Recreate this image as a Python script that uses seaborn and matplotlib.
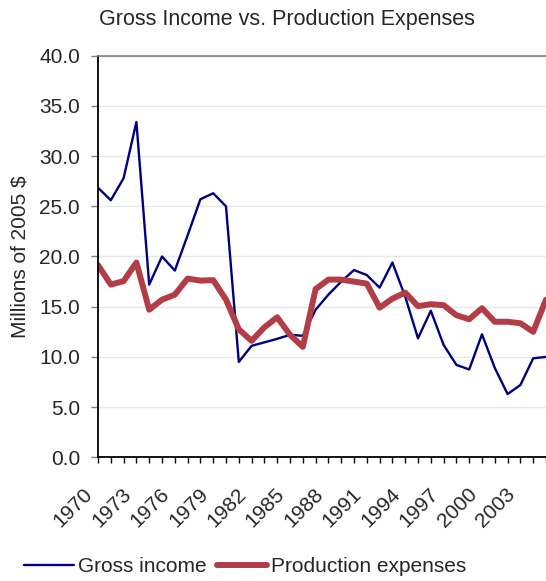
import matplotlib
matplotlib.use("Agg")
import matplotlib.pyplot as plt
import matplotlib.transforms as mtransforms
import seaborn as sns
import pandas as pd

years = list(range(1970, 2006))
gross_income = [26.85, 25.6, 27.8, 33.4, 17.2, 20.0, 18.6, 22.1, 25.7, 26.3,
                25.0, 9.5, 11.1, 11.45, 11.8, 12.2, 12.1, 14.7, 16.2, 17.5,
                18.65, 18.15, 16.9, 19.4, 16.0, 11.85, 14.6, 11.2, 9.2, 8.75,
                12.25, 8.9, 6.3, 7.2, 9.86, 10.0]
production_expenses = [19.15, 17.2, 17.55, 19.4, 14.7, 15.7, 16.2, 17.8, 17.6, 17.65,
                       15.7, 12.75, 11.6, 12.95, 13.95, 12.2, 11.0, 16.75, 17.7, 17.7,
                       17.5, 17.3, 14.9, 15.8, 16.4, 15.05, 15.25, 15.15, 14.15, 13.75,
                       14.85, 13.5, 13.5, 13.35, 12.5, 15.7]
label_years = list(range(1970, 2004, 3))
y_ticks = [0, 5, 10, 15, 20, 25, 30, 35, 40]

df = pd.DataFrame({"Year": years, "Gross income": gross_income,
                   "Production expenses": production_expenses})

sns.set_style("white")
plt.rcParams['font.family'] = ['Liberation Sans', 'DejaVu Sans']

W, H = 546, 581
fig = plt.figure(figsize=(W / 100, H / 100), dpi=100)
left, right, top, bottom = 98, 546, 55.7, 457.3
ax = fig.add_axes([left / W, (H - bottom) / H, (right - left) / W, (bottom - top) / H])

sns.lineplot(data=df, x="Year", y="Gross income", ax=ax, color="#000080",
             linewidth=1.7, label="Gross income", legend=False)
sns.lineplot(data=df, x="Year", y="Production expenses", ax=ax, color="#B33D47",
             linewidth=4.3, label="Production expenses", legend=False,
             solid_capstyle="round", solid_joinstyle="round")

ax.set_xlim(1970, 2005)
ax.set_ylim(0, 40)
ax.set_yticks(y_ticks)
ax.set_yticklabels([f"{v:.1f}" for v in y_ticks], fontsize=15)
ax.set_xticks(years)
ax.set_xticklabels([])
offset = mtransforms.ScaledTranslation(-15 / 100, -27 / 100, fig.dpi_scale_trans)
for yr in label_years:
    ax.text(yr, 0, str(yr), transform=ax.get_xaxis_transform() + offset,
            rotation=45, ha="right", va="top", rotation_mode="anchor",
            fontsize=15, clip_on=False)
ax.tick_params(axis="x", direction="out", length=4, width=1, color="black", bottom=True)
ax.tick_params(axis="y", direction="out", length=5, width=1, color="#808080", pad=8, left=True)
ax.yaxis.grid(True, color="#E8E8E8", linewidth=1)
ax.set_axisbelow(True)
for s in ["left", "bottom"]:
    ax.spines[s].set_color("black")
    ax.spines[s].set_linewidth(1.3)
ax.spines["top"].set_color("#808080")
ax.spines["top"].set_linewidth(1.2)
ax.spines["right"].set_visible(False)

ax.set_xlabel("")
ax.set_ylabel("Millions of 2005 $", fontsize=15, labelpad=10)
ax.yaxis.set_label_coords(-68 / (right - left), 0.5)
fig.text(287 / W, 1 - 19 / H, "Gross Income vs. Production Expenses",
         ha="center", va="center", fontsize=15.5)

handles, labels = ax.get_legend_handles_labels()
fig.legend(handles, labels, loc="center", bbox_to_anchor=(245 / W, 1 - 567 / H),
           ncol=2, frameon=False, fontsize=15, handlelength=2.4, handletextpad=0.2,
           columnspacing=0.5)

fig.savefig("out.png", dpi=100)
